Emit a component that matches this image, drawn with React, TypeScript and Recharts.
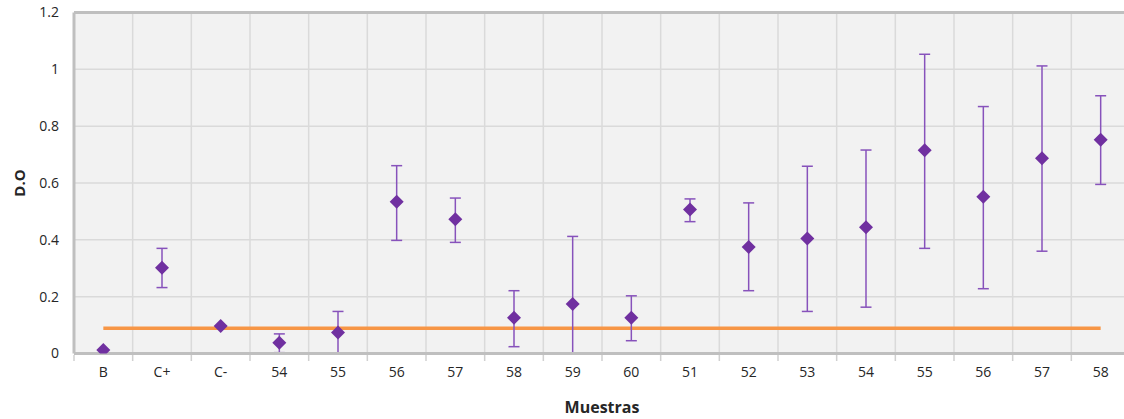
import React from "react";
import {
  ComposedChart,
  Line,
  ErrorBar,
  XAxis,
  YAxis,
  CartesianGrid,
  ReferenceLine,
  Label,
} from "recharts";

const muestras = ["B", "C+", "C-", "54", "55", "56", "57", "58", "59", "60", "51", "52", "53", "54", "55", "56", "57", "58"];
const doMedia = [0.012, 0.302, 0.097, 0.038, 0.074, 0.534, 0.472, 0.126, 0.174, 0.126, 0.507, 0.375, 0.405, 0.444, 0.715, 0.552, 0.687, 0.752];
const doMin = [0.012, 0.232, 0.097, 0.003, 0.0, 0.398, 0.391, 0.024, 0.0, 0.045, 0.464, 0.221, 0.148, 0.163, 0.37, 0.228, 0.36, 0.595];
const doMax = [0.012, 0.37, 0.097, 0.069, 0.148, 0.661, 0.547, 0.221, 0.412, 0.203, 0.544, 0.53, 0.659, 0.716, 1.053, 0.869, 1.012, 0.907];
const puntoCorte = [0.089, 0.089, 0.089, 0.089, 0.089, 0.089, 0.089, 0.089, 0.089, 0.089, 0.089, 0.089, 0.089, 0.089, 0.089, 0.089, 0.089, 0.089];
const yTicks = [0, 0.2, 0.4, 0.6, 0.8, 1, 1.2];

const data = muestras.map((m, i) => ({
  id: i,
  name: m,
  media: doMedia[i],
  err: [doMedia[i] - doMin[i], doMax[i] - doMedia[i]],
  corte: puntoCorte[i],
}));

// chart is pinned to the page's top-left corner; the plot runs a little past the right edge
const CHART_W = 1140;
const CHART_H = 419;
const YAXIS_W = 74;
const MARGIN = { top: 12.5, right: 10, bottom: 5.5, left: 0 };
const PLOT_W = CHART_W - YAXIS_W - MARGIN.right - MARGIN.left;
const BAND = PLOT_W / muestras.length;

const PURPLE = "#7030a0";
const TEXT = "#262626";

const Diamond = (props: any) => {
  const { cx, cy, index } = props;
  if (cx == null || cy == null) return <g key={index} />;
  const r = 7;
  return (
    <path
      key={index}
      d={`M${cx},${cy - r}L${cx + r},${cy}L${cx},${cy + r}L${cx - r},${cy}Z`}
      fill={PURPLE}
    />
  );
};

// label in the middle of the band, tick mark on the band's left edge (Excel style)
const MuestraTick = (props: any) => {
  const { x, y, payload } = props;
  const axisY = y - 8;
  return (
    <g>
      <line
        x1={x - BAND / 2}
        x2={x - BAND / 2}
        y1={axisY + 1.5}
        y2={axisY + 7.5}
        stroke="#d0d0d0"
        strokeWidth={1.5}
      />
      <text x={x} y={y + 15.5} textAnchor="middle" fill={TEXT} fontSize={14}>
        {muestras[payload.value]}
      </text>
    </g>
  );
};

export default function App() {
  return (
    <div
      style={{
        position: "absolute",
        top: 0,
        left: 0,
        width: 1124,
        height: CHART_H,
        overflow: "hidden",
        background: "#fff",
        fontFamily: "'Open Sans', sans-serif",
      }}
    >
      <ComposedChart width={CHART_W} height={CHART_H} data={data} margin={MARGIN}>
        <CartesianGrid
          fill="#f2f2f2"
          stroke="#dadada"
          strokeWidth={1.5}
          verticalCoordinatesGenerator={({ offset }: any) =>
            muestras.map((_, i) => offset.left + ((i + 1) * offset.width) / muestras.length)
          }
        />
        <Line
          dataKey="corte"
          stroke="#f79646"
          strokeWidth={3.5}
          dot={false}
          activeDot={false}
          isAnimationActive={false}
        />
        {/* error bars first, so the axis covers the caps sitting on 0 */}
        <Line
          dataKey="media"
          stroke="none"
          dot={false}
          activeDot={false}
          isAnimationActive={false}
        >
          <ErrorBar dataKey="err" width={5.5} stroke="#8752bb" strokeWidth={1.5} direction="y" />
        </Line>
        <ReferenceLine y={1.2} stroke="#bfbfbf" strokeWidth={3} />
        <XAxis
          dataKey="id"
          type="category"
          height={60}
          padding={{ left: BAND / 2, right: BAND / 2 }}
          axisLine={{ stroke: "#bfbfbf", strokeWidth: 3 }}
          tickLine={false}
          tickSize={6}
          tickMargin={2}
          tick={<MuestraTick />}
          interval={0}
        >
          <Label
            value="Muestras"
            position="insideBottom"
            offset={1}
            style={{ fontWeight: 700, fontSize: 16, fill: TEXT }}
          />
        </XAxis>
        <YAxis
          width={YAXIS_W}
          domain={[0, 1.2]}
          ticks={yTicks}
          allowDataOverflow
          axisLine={{ stroke: "#bfbfbf", strokeWidth: 3 }}
          tickLine={false}
          tickSize={6}
          tickMargin={9}
          tick={{ fontSize: 14, fill: TEXT }}
        >
          <Label
            value="D.O"
            angle={-90}
            position="insideLeft"
            offset={20}
            style={{ textAnchor: "middle", fontWeight: 700, fontSize: 15, fill: TEXT }}
          />
        </YAxis>
        <Line
          dataKey="media"
          stroke="none"
          dot={Diamond}
          activeDot={false}
          isAnimationActive={false}
        />
      </ComposedChart>
    </div>
  );
}
